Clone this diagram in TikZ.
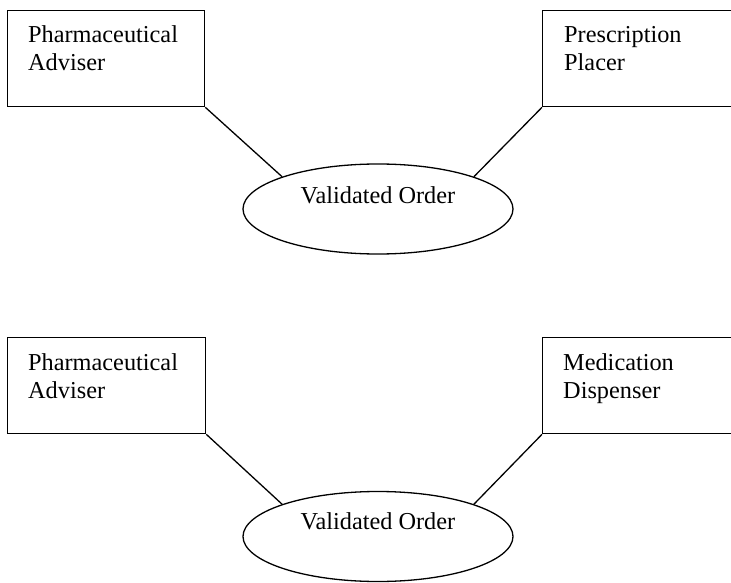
\documentclass[tikz,border=0pt]{standalone}
\usepackage{fontspec}
\setmainfont{Liberation Serif}
\usetikzlibrary{shapes.geometric}
\begin{document}
\begin{tikzpicture}[x=1pt,y=-1pt,
  every node/.style={font=\fontsize{24.3}{28}\selectfont},
  box/.style={draw, line width=1.3pt, rectangle, inner sep=0pt, minimum height=96pt, anchor=north west},
  lbl/.style={align=left, anchor=base west, inner sep=0pt},
  oval/.style={draw, line width=1.3pt, ellipse, inner sep=0pt, minimum width=270pt, minimum height=90pt},
  otext/.style={anchor=base, inner sep=0pt},
  link/.style={line width=1.3pt}]
\useasboundingbox (0,0) rectangle (731,583);
% top group
\node[box, minimum width=197pt] (pa1) at (7,10) {};
\node[lbl] (pa1t) at (28,71) {Pharmaceutical\\Adviser};
\node[box, minimum width=220pt] (pp) at (542,10) {};
\node[lbl] (ppt) at (564,71) {Prescription\\Placer};
\node[oval] (vo1) at (378,209) {};
\node[otext] (vo1t) at (378,203) {Validated Order};
\draw[link] (pa1.south east) -- (vo1.north west);
\draw[link] (pp.south west) -- (vo1.north east);
% bottom group
\node[box, minimum width=198pt] (pa2) at (7,337) {};
\node[lbl] (pa2t) at (28,398) {Pharmaceutical\\Adviser};
\node[box, minimum width=220pt] (md) at (542,337) {};
\node[lbl] (mdt) at (563,398) {Medication\\Dispenser};
\node[oval] (vo2) at (378,536.5) {};
\node[otext] (vo2t) at (378,529) {Validated Order};
\draw[link] (pa2.south east) -- (vo2.north west);
\draw[link] (md.south west) -- (vo2.north east);
\end{tikzpicture}
\end{document}
